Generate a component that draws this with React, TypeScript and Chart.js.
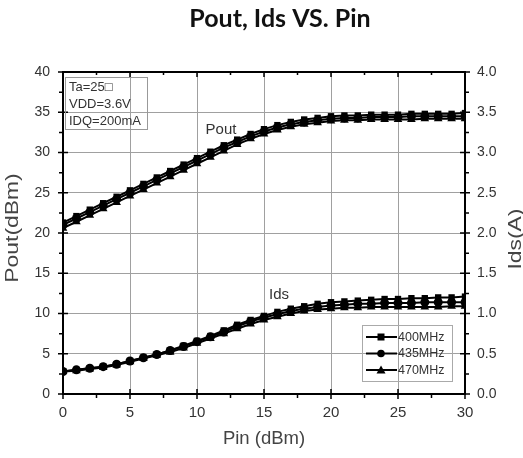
import React, { useEffect, useRef } from "react";
import { Chart, registerables } from "chart.js";

Chart.register(...registerables);

const pin = [0,1,2,3,4,5,6,7,8,9,10,11,12,13,14,15,16,17,18,19,20,21,22,23,24,25,26,27,28,29,30];

const pout400 = [21.3,22.1,22.9,23.7,24.5,25.3,26.1,26.9,27.7,28.5,29.3,30.1,30.9,31.6,32.3,32.9,33.4,33.8,34.1,34.3,34.5,34.6,34.6,34.7,34.7,34.7,34.8,34.8,34.8,34.8,34.9];
const pout435 = [21.0,21.8,22.6,23.4,24.2,25.0,25.8,26.6,27.4,28.2,29.0,29.8,30.6,31.3,32.0,32.6,33.1,33.5,33.8,34.0,34.2,34.3,34.3,34.4,34.4,34.4,34.5,34.5,34.5,34.5,34.5];
const pout470 = [20.6,21.4,22.2,23.0,23.8,24.6,25.4,26.2,27.0,27.8,28.6,29.4,30.2,31.0,31.7,32.3,32.8,33.2,33.5,33.7,33.9,34.0,34.0,34.1,34.1,34.1,34.1,34.2,34.2,34.2,34.2];

const ids400 = [0.28,0.30,0.32,0.34,0.37,0.41,0.45,0.49,0.54,0.60,0.66,0.72,0.79,0.86,0.92,0.97,1.02,1.06,1.09,1.12,1.14,1.15,1.16,1.17,1.18,1.18,1.19,1.19,1.20,1.20,1.21];
const ids435 = [0.28,0.30,0.32,0.34,0.37,0.41,0.45,0.49,0.54,0.59,0.65,0.71,0.77,0.84,0.90,0.95,0.99,1.03,1.06,1.08,1.10,1.11,1.12,1.12,1.13,1.13,1.13,1.14,1.14,1.14,1.14];
const ids470 = [0.28,0.29,0.31,0.33,0.36,0.40,0.44,0.48,0.52,0.57,0.63,0.69,0.75,0.81,0.87,0.92,0.96,1.00,1.03,1.05,1.06,1.07,1.07,1.08,1.08,1.08,1.08,1.08,1.08,1.09,1.09];

const seriesNames = ["400MHz", "435MHz", "470MHz"];
const markerStyles = ["rect", "circle", "triangle"];
const conditions = ["Ta=25\u25A1", "VDD=3.6V", "IDQ=200mA"];
const titleText = "Pout, Ids VS. Pin";
const xTitle = "Pin (dBm)";
const yTitle = "Pout(dBm)";
const y1Title = "Ids(A)";

const AXIS_FONT = "'Liberation Sans', Arial, sans-serif";

const toXY = (ys: number[]) => ys.map((v, i) => ({ x: pin[i], y: v }));

const framePlugin = {
  id: "frameTicks",
  afterDatasetsDraw(chart: any) {
    const { ctx, chartArea: a, scales } = chart;
    const x = scales.x, y = scales.y;
    ctx.save();

    // main title
    ctx.fillStyle = "#111";
    ctx.font = "bold 25px Lato, 'Open Sans', sans-serif";
    ctx.textAlign = "center";
    ctx.textBaseline = "middle";
    ctx.fillText(titleText, 280, 19);

    ctx.strokeStyle = "#000";
    ctx.lineWidth = 1.5;
    ctx.beginPath();
    for (let v = 0; v <= 30; v += 2.5) {
      const px = x.getPixelForValue(v);
      if (v % 5 === 0) {
        ctx.moveTo(px, a.bottom - 5); ctx.lineTo(px, a.bottom + 5);
        ctx.moveTo(px, a.top); ctx.lineTo(px, a.top + 5);
      } else {
        ctx.moveTo(px, a.bottom); ctx.lineTo(px, a.bottom + 4);
        ctx.moveTo(px, a.top); ctx.lineTo(px, a.top + 3);
      }
    }
    for (let v = 0; v <= 40; v += 2.5) {
      const py = y.getPixelForValue(v);
      if (v % 5 === 0) {
        ctx.moveTo(a.left - 5, py); ctx.lineTo(a.left + 5, py);
        ctx.moveTo(a.right - 5, py); ctx.lineTo(a.right + 5, py);
      } else {
        ctx.moveTo(a.left - 4, py); ctx.lineTo(a.left, py);
        ctx.moveTo(a.right, py); ctx.lineTo(a.right + 4, py);
      }
    }
    ctx.stroke();
    ctx.lineWidth = 2;
    ctx.strokeRect(a.left, a.top, a.right - a.left, a.bottom - a.top);

    // vertical axis titles (stretched along the text as in the reference)
    ctx.fillStyle = "#444";
    ctx.font = "18px " + AXIS_FONT;
    ctx.textAlign = "center";
    ctx.textBaseline = "middle";
    ctx.save();
    ctx.translate(13, (a.top + a.bottom) / 2 - 5);
    ctx.rotate(-Math.PI / 2);
    ctx.scale(1.27, 1);
    ctx.fillText(yTitle, 0, 0);
    ctx.restore();
    ctx.save();
    ctx.translate(516, (a.top + a.bottom) / 2 + 6);
    ctx.rotate(-Math.PI / 2);
    ctx.scale(1.27, 1);
    ctx.fillText(y1Title, 0, 0);
    ctx.restore();

    // conditions box
    ctx.strokeStyle = "#999";
    ctx.lineWidth = 1;
    ctx.strokeRect(65.5, 77.5, 82, 52);
    ctx.fillStyle = "#333";
    ctx.font = "13px " + AXIS_FONT;
    ctx.textAlign = "left";
    conditions.forEach((t, i) => ctx.fillText(t, 69, 87 + i * 17));

    // curve labels
    ctx.font = "15px " + AXIS_FONT;
    ctx.textAlign = "center";
    ctx.fillText("Pout", 221, 130);
    ctx.fillText("Ids", 279, 295);

    // legend
    ctx.strokeStyle = "#aaa";
    ctx.strokeRect(362.5, 325.5, 90, 56);
    ctx.font = "12.5px " + AXIS_FONT;
    ctx.textAlign = "left";
    seriesNames.forEach((n, i) => {
      const ly = 337 + i * 16.5;
      ctx.strokeStyle = "#000";
      ctx.lineWidth = 2;
      ctx.beginPath();
      ctx.moveTo(366, ly); ctx.lineTo(397, ly);
      ctx.stroke();
      ctx.fillStyle = "#000";
      const cx = 381;
      ctx.beginPath();
      if (markerStyles[i] === "rect") {
        ctx.rect(cx - 3.5, ly - 3.5, 7, 7);
      } else if (markerStyles[i] === "circle") {
        ctx.arc(cx, ly, 3.8, 0, Math.PI * 2);
      } else {
        ctx.moveTo(cx, ly - 4.5); ctx.lineTo(cx + 4.5, ly + 3.5); ctx.lineTo(cx - 4.5, ly + 3.5); ctx.closePath();
      }
      ctx.fill();
      ctx.fillStyle = "#333";
      ctx.fillText(n, 398, ly + 0.5);
    });
    ctx.restore();
  },
};

export default function App() {
  const ref = useRef<HTMLCanvasElement | null>(null);
  useEffect(() => {
    if (!ref.current) return;
    const ds = (label: string, data: number[], style: string, axis: string) => ({
      label,
      data: toXY(data),
      yAxisID: axis,
      borderColor: "#000",
      backgroundColor: "#000",
      borderWidth: 2,
      pointStyle: style,
      pointRadius: style === "triangle" ? 5 : 4.5,
      pointBorderWidth: 0,
      tension: 0,
    });
    const chart = new Chart(ref.current, {
      type: "line",
      data: {
        datasets: [
          ds(seriesNames[0], pout400, markerStyles[0], "y"),
          ds(seriesNames[1], pout435, markerStyles[1], "y"),
          ds(seriesNames[2], pout470, markerStyles[2], "y"),
          ds(seriesNames[0], ids400, markerStyles[0], "y1"),
          ds(seriesNames[1], ids435, markerStyles[1], "y1"),
          ds(seriesNames[2], ids470, markerStyles[2], "y1"),
        ] as any,
      },
      options: {
        animation: false,
        responsive: true,
        maintainAspectRatio: false,
        layout: { padding: { top: 72, left: 0, right: 0, bottom: 0 } },
        plugins: {
          legend: { display: false },
          tooltip: { enabled: false },
          title: { display: false },
        },
        scales: {
          x: {
            type: "linear",
            min: 0,
            max: 30,
            ticks: { stepSize: 5, color: "#333", font: { family: AXIS_FONT, size: 15 }, padding: 10 },
            grid: { color: "#a0a0a0", lineWidth: 1, drawTicks: false },
            border: { display: false },
            title: { display: true, text: xTitle, color: "#444", font: { family: AXIS_FONT, size: 18.5 }, padding: { top: 0, bottom: 8 } },
            afterFit: (s: any) => { s.height = 64; },
          },
          y: {
            type: "linear",
            position: "left",
            min: 0,
            max: 40,
            ticks: { stepSize: 5, color: "#333", font: { family: AXIS_FONT, size: 14 }, padding: 13 },
            grid: { color: "#a0a0a0", lineWidth: 1, drawTicks: false },
            border: { display: false },
            title: { display: false },
            afterFit: (s: any) => { s.width = 63; },
          },
          y1: {
            type: "linear",
            position: "right",
            min: 0,
            max: 4,
            ticks: { stepSize: 0.5, color: "#333", font: { family: AXIS_FONT, size: 14 }, padding: 12, callback: (v: any) => Number(v).toFixed(1) },
            grid: { drawOnChartArea: false, drawTicks: false },
            border: { display: false },
            title: { display: false },
            afterFit: (s: any) => { s.width = 58; },
          },
        },
      } as any,
      plugins: [framePlugin],
    });
    return () => chart.destroy();
  }, []);
  return (
    <div style={{ position: "fixed", left: 0, top: 0, width: 523, height: 458, background: "#fff" }}>
      <canvas ref={ref} />
    </div>
  );
}
